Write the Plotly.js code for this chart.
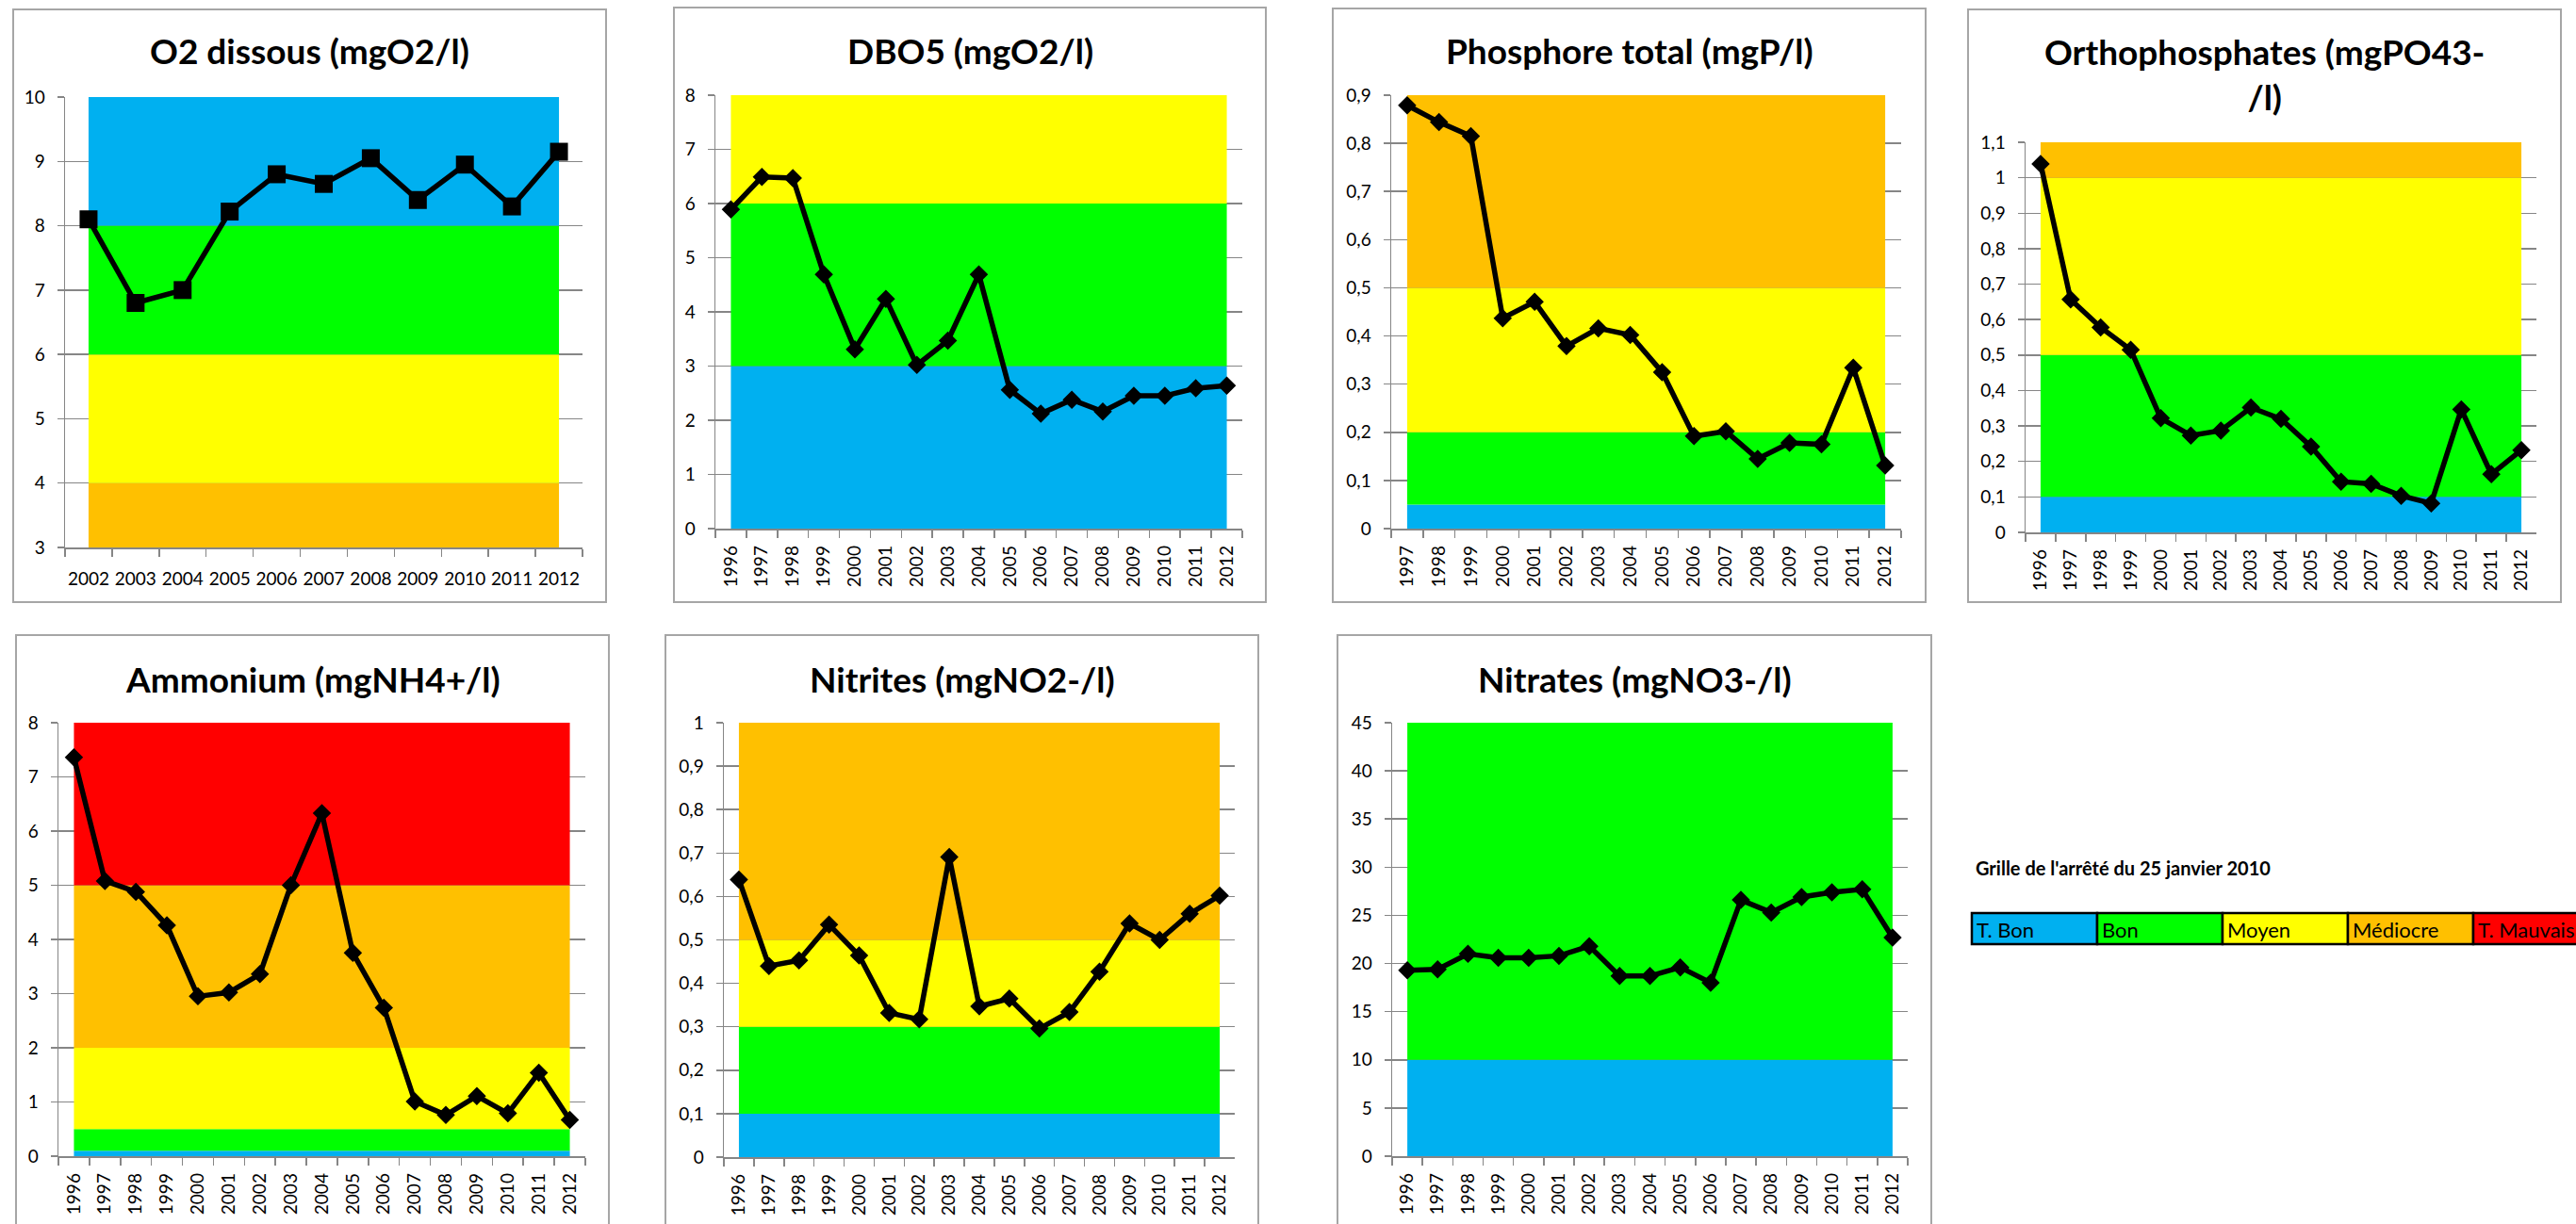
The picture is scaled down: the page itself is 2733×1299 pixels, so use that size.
<!DOCTYPE html>
<html>
<head>
<meta charset="utf-8">
<script src="https://cdn.plot.ly/plotly-3.0.1.min.js"></script>
<style>html,body{margin:0;padding:0;background:#fff;}#chart{width:2733px;height:1299px;}</style>
</head>
<body>
<div id="chart"></div>
<script>
// ---------------- DATA ----------------
const yearsO2   = ['2002','2003','2004','2005','2006','2007','2008','2009','2010','2011','2012'];
const years96   = ['1996','1997','1998','1999','2000','2001','2002','2003','2004','2005','2006','2007','2008','2009','2010','2011','2012'];
const years97   = ['1997','1998','1999','2000','2001','2002','2003','2004','2005','2006','2007','2008','2009','2010','2011','2012'];

const o2Values    = [8.1, 6.8, 7.0, 8.22, 8.8, 8.65, 9.05, 8.4, 8.95, 8.3, 9.15];
const dbo5Values  = [5.89, 6.49, 6.47, 4.69, 3.31, 4.24, 3.02, 3.47, 4.69, 2.56, 2.12, 2.38, 2.16, 2.45, 2.45, 2.59, 2.64];
const ptotValues  = [0.879, 0.844, 0.815, 0.437, 0.471, 0.379, 0.416, 0.402, 0.325, 0.192, 0.202, 0.145, 0.178, 0.175, 0.334, 0.131];
const orthoValues = [1.039, 0.657, 0.578, 0.515, 0.322, 0.273, 0.287, 0.352, 0.320, 0.242, 0.143, 0.137, 0.103, 0.082, 0.347, 0.164, 0.232];
const nh4Values   = [7.36, 5.08, 4.88, 4.26, 2.95, 3.02, 3.36, 5.0, 6.33, 3.75, 2.74, 1.01, 0.76, 1.11, 0.79, 1.54, 0.67];
const no2Values   = [0.639, 0.44, 0.453, 0.535, 0.464, 0.332, 0.317, 0.691, 0.347, 0.365, 0.296, 0.334, 0.427, 0.538, 0.5, 0.56, 0.602];
const no3Values   = [19.3, 19.4, 21.0, 20.6, 20.6, 20.8, 21.8, 18.7, 18.7, 19.6, 18.0, 26.6, 25.3, 26.9, 27.4, 27.7, 22.7];

// class thresholds (band limits, bottom to top)
const o2Bands    = [3, 4, 6, 8, 10];
const dbo5Bands  = [0, 3, 6, 8];
const ptotBands  = [0, 0.05, 0.2, 0.5, 0.9];
const orthoBands = [0, 0.1, 0.5, 1, 1.1];
const nh4Bands   = [0, 0.1, 0.5, 2, 5, 8];
const no2Bands   = [0, 0.1, 0.3, 0.5, 1];
const no3Bands   = [0, 10, 45];

const titles = ['O2 dissous (mgO2/l)', 'DBO5 (mgO2/l)', 'Phosphore total (mgP/l)', 'Orthophosphates (mgPO43-<br>/l)',
                'Ammonium (mgNH4+/l)', 'Nitrites (mgNO2-/l)', 'Nitrates (mgNO3-/l)'];
const yDticks = [1, 1, 0.1, 0.1, 1, 0.1, 5];

const legendTitle  = "Grille de l'arrêté du 25 janvier 2010";
const legendLabels = ['T. Bon', 'Bon', 'Moyen', 'Médiocre', 'T. Mauvais'];

// ---------------- STYLE ----------------
const BLUE = '#00B0F0', GREEN = '#00FF00', YELLOW = '#FFFF00', ORANGE = '#FFC000', RED = '#FF0000';
const legendColors = [BLUE, GREEN, YELLOW, ORANGE, RED];
const GRID = '#868686';
const FONT = 'Lato, "Open Sans", "DejaVu Sans", sans-serif';

const W = 2733, H = 1299;

const series = [
  {x: yearsO2, y: o2Values,    bands: o2Bands,    colors: [ORANGE, YELLOW, GREEN, BLUE]},
  {x: years96, y: dbo5Values,  bands: dbo5Bands,  colors: [BLUE, GREEN, YELLOW]},
  {x: years97, y: ptotValues,  bands: ptotBands,  colors: [BLUE, GREEN, YELLOW, ORANGE]},
  {x: years96, y: orthoValues, bands: orthoBands, colors: [BLUE, GREEN, YELLOW, ORANGE]},
  {x: years96, y: nh4Values,   bands: nh4Bands,   colors: [BLUE, GREEN, YELLOW, ORANGE, RED]},
  {x: years96, y: no2Values,   bands: no2Bands,   colors: [BLUE, GREEN, YELLOW, ORANGE]},
  {x: years96, y: no3Values,   bands: no3Bands,   colors: [BLUE, GREEN]}
];

// geometry in pixels: frame box, plot box, title centre y
const boxes = [
  {frame: [14, 10, 643, 639],    plot: [69, 103, 618, 581],     ty: 54},
  {frame: [715, 8, 1343, 639],   plot: [759, 101, 1318, 561],   ty: 54},
  {frame: [1414, 9, 2043, 639],  plot: [1476, 101, 2017, 561],  ty: 54},
  {frame: [2088, 10, 2717, 639], plot: [2149, 151, 2691, 565],  ty: 78},
  {frame: [17, 674, 646, 1310],  plot: [62, 767, 621, 1227],    ty: 720},
  {frame: [706, 674, 1335, 1310],plot: [768, 767, 1310, 1228],  ty: 720},
  {frame: [1419, 674, 2049,1310],plot: [1477, 767, 2024, 1227], ty: 720}
];

const px = v => v / W;
const py = v => 1 - v / H;

const data = [];
const layout = {
  width: W, height: H,
  margin: {l: 0, r: 0, t: 0, b: 0, pad: 0},
  paper_bgcolor: '#fff', plot_bgcolor: '#fff',
  showlegend: false,
  separators: ', ',
  font: {family: FONT, color: '#000', size: 19},
  shapes: [], annotations: []
};

series.forEach((s, i) => {
  const b = boxes[i];
  const xa = i === 0 ? 'x' : 'x' + (i + 1);
  const ya = i === 0 ? 'y' : 'y' + (i + 1);
  const common = {type: 'scatter', xaxis: xa, yaxis: ya, hoverinfo: 'skip'};
  // band areas
  data.push(Object.assign({}, common, {mode: 'lines', x: s.x, y: s.x.map(() => s.bands[0]), line: {width: 0}}));
  for (let k = 1; k < s.bands.length; k++) {
    data.push(Object.assign({}, common, {
      mode: 'lines', x: s.x, y: s.x.map(() => s.bands[k]),
      fill: 'tonexty', fillcolor: s.colors[k - 1], line: {width: 0}
    }));
  }
  // measured series
  data.push(Object.assign({}, common, {
    mode: 'lines+markers', x: s.x, y: s.y,
    line: {color: '#000', width: 5.5},
    marker: {symbol: i === 0 ? 'square' : 'diamond', size: i === 0 ? 19 : 15, color: '#000'}
  }));

  const n = s.x.length;
  layout['xaxis' + (i === 0 ? '' : i + 1)] = {
    domain: [px(b.plot[0]), px(b.plot[2])],
    anchor: ya, type: 'category', range: [-0.5, n - 0.5],
    showgrid: false, zeroline: false,
    showline: true, linecolor: GRID, linewidth: 1.5,
    ticks: 'outside', tickson: 'boundaries', ticklen: 8, tickcolor: GRID, tickwidth: 1.5,
    tickangle: i === 0 ? 0 : -90,
    ticklabelstandoff: i === 0 ? 16 : 9,
    tickfont: {family: FONT, size: 19, color: '#000'},
    fixedrange: true
  };
  layout['yaxis' + (i === 0 ? '' : i + 1)] = {
    domain: [py(b.plot[3]), py(b.plot[1])],
    anchor: xa, range: [s.bands[0], s.bands[s.bands.length - 1]],
    dtick: yDticks[i], tick0: 0,
    showgrid: true, gridcolor: GRID, gridwidth: 1.5, zeroline: false,
    showline: true, linecolor: GRID, linewidth: 1.5,
    ticks: 'outside', ticklen: 7, tickcolor: GRID, tickwidth: 1.5,
    ticklabelstandoff: 9,
    tickfont: {family: FONT, size: 19, color: '#000'},
    fixedrange: true
  };

  // frame
  layout.shapes.push({
    type: 'rect', xref: 'paper', yref: 'paper', layer: 'below',
    x0: px(b.frame[0]), x1: px(b.frame[2]), y0: py(b.frame[3]), y1: py(b.frame[1]),
    line: {color: '#A6A6A6', width: 2}, fillcolor: 'rgba(0,0,0,0)'
  });
  // title
  layout.annotations.push({
    xref: 'paper', yref: 'paper', x: px((b.frame[0] + b.frame[2]) / 2), y: py(b.ty),
    xanchor: 'center', yanchor: 'middle', showarrow: false,
    text: '<b>' + titles[i] + '</b>',
    font: {family: FONT, size: 37, color: '#000'}
  });
});

// legend grid
const legX = 2092, legY0 = 969, legY1 = 1002, cellW = 133;
layout.annotations.push({
  xref: 'paper', yref: 'paper', x: px(2094), y: py(921), xanchor: 'left', yanchor: 'middle',
  showarrow: false, text: '<b>' + legendTitle + '</b>', font: {family: FONT, size: 20, color: '#000'}
});
legendLabels.forEach((lab, k) => {
  const x0 = legX + k * cellW;
  layout.shapes.push({
    type: 'rect', xref: 'paper', yref: 'paper', layer: 'above',
    x0: px(x0), x1: px(x0 + cellW), y0: py(legY1), y1: py(legY0),
    line: {color: '#000', width: 2.5}, fillcolor: legendColors[k]
  });
  layout.annotations.push({
    xref: 'paper', yref: 'paper', x: px(x0 + 3), y: py((legY0 + legY1) / 2 + 1),
    xanchor: 'left', yanchor: 'middle', showarrow: false,
    text: lab, font: {family: FONT, size: 22, color: '#000'}
  });
});

Plotly.newPlot('chart', data, layout, {staticPlot: true, displayModeBar: false});
</script>
</body>
</html>
